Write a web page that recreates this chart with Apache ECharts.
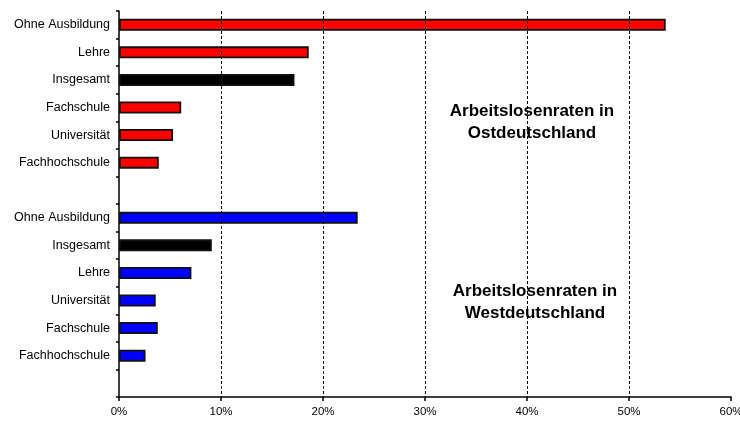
<!DOCTYPE html>
<html>
<head>
<meta charset="utf-8">
<script src="https://cdn.jsdelivr.net/npm/echarts@6/dist/echarts.min.js"></script>
<style>
  html, body { margin: 0; padding: 0; background: #fff; }
  #chart { width: 740px; height: 423px; }
</style>
</head>
<body>
<div id="chart"></div>
<script>
// Arbeitslosenraten nach Ausbildung (in %)
const eastCats = ['Ohne Ausbildung', 'Lehre', 'Insgesamt', 'Fachschule', 'Universität', 'Fachhochschule']
const eastVals = [53.6, 18.6, 17.2, 6.1, 5.3, 3.9]
const westCats = ['Ohne Ausbildung', 'Insgesamt', 'Lehre', 'Universität', 'Fachschule', 'Fachhochschule']
const westVals = [23.4, 9.1, 7.1, 3.6, 3.8, 2.6]
const gridVals = [10, 20, 30, 40, 50]

const font = '"Liberation Sans", Arial, sans-serif'

// one category axis: east block, gap, west block, gap
const cats = [...eastCats, '', ...westCats, '']
const colorFor = (cat, base) => cat === 'Insgesamt' ? '#000000' : base
const barData = [
  ...eastVals.map((v, i) => ({ value: v, itemStyle: { color: colorFor(eastCats[i], '#ff0000') } })),
  '-',
  ...westVals.map((v, i) => ({ value: v, itemStyle: { color: colorFor(westCats[i], '#0000ff') } })),
  '-'
]

const note = (text, x, y) => ({
  type: 'text', x: x, y: y, silent: true,
  style: {
    text: text,
    font: 'bold 17px ' + font, fill: '#000',
    align: 'center', verticalAlign: 'middle', lineHeight: 22
  }
})

let myChart = echarts.init(document.getElementById('chart'))

myChart.setOption({
  animation: false,
  grid: { left: 119, right: 9, top: 11, bottom: 26, outerBoundsMode: 'none' },
  xAxis: {
    type: 'value',
    min: 0,
    max: 60,
    interval: 10,
    axisLine: { show: true, lineStyle: { color: '#000', width: 1.5 } },
    axisTick: { show: true, length: 4, lineStyle: { color: '#000', width: 1.5 } },
    axisLabel: { formatter: '{value}%', color: '#000', fontSize: 11.5, fontFamily: font, margin: 9 },
    splitLine: { show: false }
  },
  yAxis: {
    type: 'category',
    inverse: true,
    data: cats,
    axisLine: { show: true, lineStyle: { color: '#000', width: 1.5 } },
    axisTick: { show: true, length: 3, lineStyle: { color: '#000', width: 1.5 } },
    axisLabel: { color: '#000', fontSize: 12.5, fontFamily: font, margin: 9 }
  },
  series: [{
    type: 'bar',
    data: barData,
    barWidth: 12,
    itemStyle: { borderColor: '#111', borderWidth: 1.8 },
    markLine: {
      silent: true,
      symbol: 'none',
      label: { show: false },
      lineStyle: { color: '#000', type: [3, 2], width: 1 },
      data: gridVals.map(v => ({ xAxis: v }))
    }
  }],
  graphic: [
    note('Arbeitslosenraten in\nOstdeutschland', 532, 122),
    note('Arbeitslosenraten in\nWestdeutschland', 535, 302)
  ]
})
</script>
</body>
</html>
